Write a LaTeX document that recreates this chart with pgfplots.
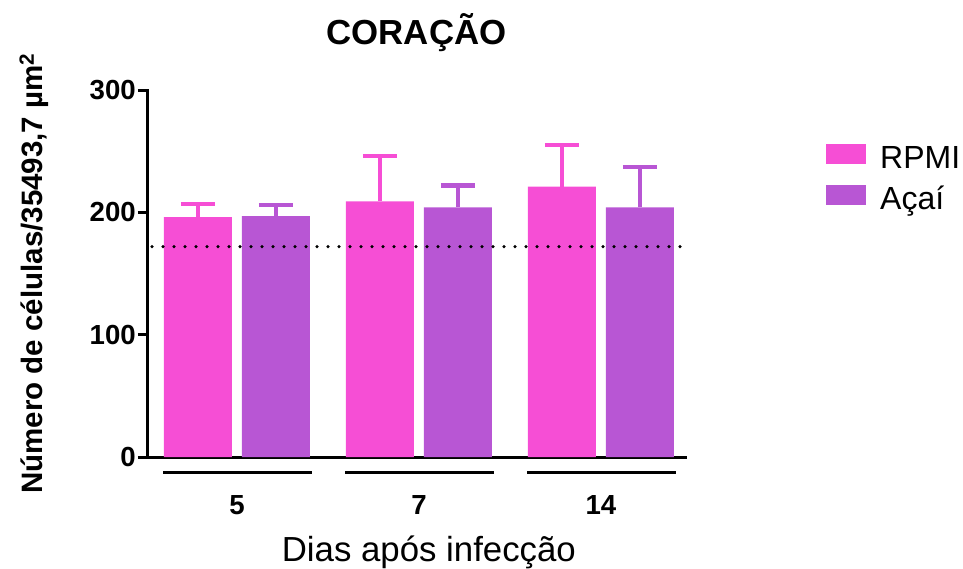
\documentclass[border=0pt]{standalone}
\usepackage{pgfplots}
\pgfplotsset{compat=1.18}
\usepackage{fontspec}
\setmainfont{Liberation Sans}
\definecolor{rpmi}{RGB}{246,78,213}
\definecolor{acai}{RGB}{184,86,212}
\begin{document}
\begin{tikzpicture}
\path[use as bounding box] (-148pt,-111pt) rectangle (815pt,457pt);
\begin{axis}[
  at={(0,0)}, anchor=south west,
  scale only axis, width=537pt, height=367pt,
  xmin=-0.489, xmax=2.462, ymin=0, ymax=300,
  axis lines*=left,
  axis line style={line width=3pt, line cap=rect},
  ytick={0,100,200,300},
  xtick={0,1,2}, xticklabels={5,7,14},
  x tick style={draw=none},
  y tick style={line width=3pt, black},
  tick align=outside, major tick length=10pt,
  /pgf/number format/assume math mode=true,
  tick label style={font=\bfseries\fontsize{27.6}{30}\selectfont},
  yticklabel style={inner sep=2pt},
  xticklabel style={anchor=north, inner sep=0pt, yshift=-28pt},
  ybar=10pt, bar width=68pt,
  clip=false,
  title={CORAÇÃO},
  title style={at={(axis description cs:0.5,1)}, anchor=south, yshift=29pt, font=\bfseries\fontsize{34.8}{40}\selectfont},
  xlabel={Dias após infecção},
  xlabel style={at={(axis description cs:0.523,0)}, anchor=center, yshift=-95pt, font=\fontsize{34.8}{40}\selectfont},
  ylabel={Número de células/35493,7 µm\textsuperscript{2}},
  ylabel style={at={(axis description cs:-0.212,0.5)}, anchor=center, rotate=0, font=\bfseries\fontsize{29.5}{32}\selectfont},
  legend style={at={(axis description cs:1.2626,0.853)}, anchor=north west, draw=none, fill=none,
    inner sep=0pt, row sep=17pt, font=\fontsize{32}{36}\selectfont,
    nodes={inner sep=0pt, text depth=0pt}, column sep=14pt},
  legend cell align=left,
  legend image code/.code={\fill[#1,draw=none] (0pt,-7pt) rectangle (40pt,13pt);},
]
\addplot[fill=rpmi, draw=none,
  error bars/.cd, y dir=plus, y explicit,
  error bar style={line width=4.5pt, draw=rpmi},
  error mark options={draw=rpmi, line width=4.5pt, mark size=17pt, rotate=90}]
  coordinates {(0,196) +- (0,11) (1,209) +- (0,37) (2,221) +- (0,34)};
\addplot[fill=acai, draw=none,
  error bars/.cd, y dir=plus, y explicit,
  error bar style={line width=4.5pt, draw=acai},
  error mark options={draw=acai, line width=4.5pt, mark size=17pt, rotate=90}]
  coordinates {(0,197) +- (0,9) (1,204) +- (0,18) (2,204) +- (0,33)};
\legend{RPMI, Açaí}
\addplot[sharp plot, forget plot, black, line width=3.5pt, line cap=round, dash pattern=on 0pt off 11pt]
  coordinates {(-0.467,172) (2.451,172)};
\draw[line width=3pt] (axis cs:-0.405,-12.8) -- (axis cs:0.41,-12.8);
\draw[line width=3pt] (axis cs:0.595,-12.8) -- (axis cs:1.41,-12.8);
\draw[line width=3pt] (axis cs:1.595,-12.8) -- (axis cs:2.41,-12.8);
\end{axis}
\end{tikzpicture}
\end{document}
